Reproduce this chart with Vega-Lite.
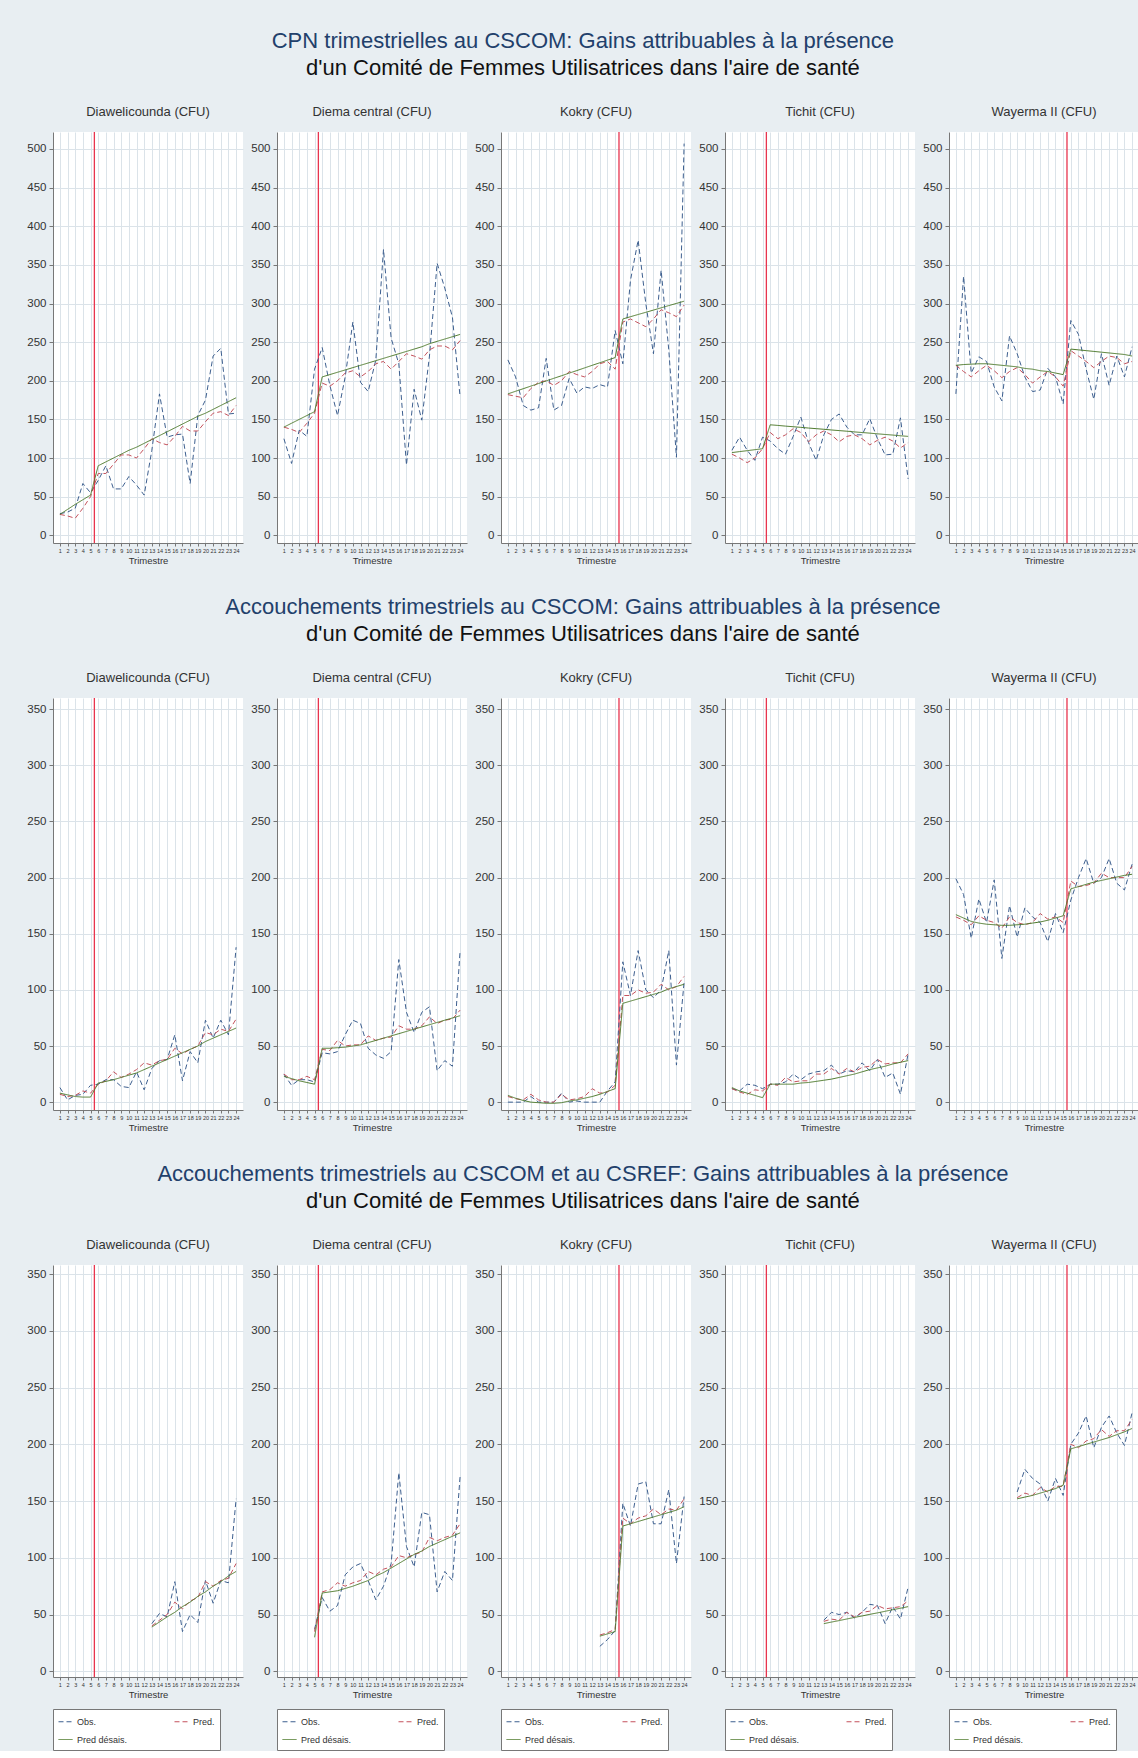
{
"$schema":"https://vega.github.io/schema/vega-lite/v6.json",
"background":"#e8eef2",
"padding":{"left":26,"top":30,"right":2,"bottom":0},
"spacing":31,
"data":{"values":[
{"r":1,"s":1,"q":1,"obs":28,"pred":27,"trend":27},{"r":1,"s":1,"q":2,"obs":30,"pred":25,"trend":33.5},{"r":1,"s":1,"q":3,"obs":35,"pred":22,"trend":40},{"r":1,"s":1,"q":4,"obs":67,"pred":35,"trend":46},{"r":1,"s":1,"q":5,"obs":55,"pred":50,"trend":52},{"r":1,"s":1,"q":6,"obs":71,"pred":80,"trend":90},{"r":1,"s":1,"q":7,"obs":90,"pred":80,"trend":95},{"r":1,"s":1,"q":8,"obs":60,"pred":92,"trend":100},{"r":1,"s":1,"q":9,"obs":60,"pred":104,"trend":105},{"r":1,"s":1,"q":10,"obs":76,"pred":104,"trend":110},{"r":1,"s":1,"q":11,"obs":65,"pred":100,"trend":114},{"r":1,"s":1,"q":12,"obs":52,"pred":112,"trend":119},{"r":1,"s":1,"q":13,"obs":110,"pred":125,"trend":124},{"r":1,"s":1,"q":14,"obs":183,"pred":120,"trend":129},{"r":1,"s":1,"q":15,"obs":127,"pred":117,"trend":134},{"r":1,"s":1,"q":16,"obs":130,"pred":128,"trend":139},{"r":1,"s":1,"q":17,"obs":131,"pred":141,"trend":144},{"r":1,"s":1,"q":18,"obs":67,"pred":135,"trend":149},{"r":1,"s":1,"q":19,"obs":155,"pred":135,"trend":154},{"r":1,"s":1,"q":20,"obs":175,"pred":147,"trend":158},{"r":1,"s":1,"q":21,"obs":232,"pred":158,"trend":163},{"r":1,"s":1,"q":22,"obs":242,"pred":160,"trend":168},{"r":1,"s":1,"q":23,"obs":157,"pred":155,"trend":173},{"r":1,"s":1,"q":24,"obs":158,"pred":168,"trend":178},
{"r":1,"s":2,"q":1,"obs":125,"pred":140,"trend":140},{"r":1,"s":2,"q":2,"obs":93,"pred":137,"trend":145},{"r":1,"s":2,"q":3,"obs":136,"pred":133,"trend":150},{"r":1,"s":2,"q":4,"obs":128,"pred":145,"trend":155},{"r":1,"s":2,"q":5,"obs":215,"pred":158,"trend":160},{"r":1,"s":2,"q":6,"obs":243,"pred":197,"trend":205},{"r":1,"s":2,"q":7,"obs":194,"pred":193,"trend":208},{"r":1,"s":2,"q":8,"obs":155,"pred":200,"trend":211},{"r":1,"s":2,"q":9,"obs":205,"pred":210,"trend":214},{"r":1,"s":2,"q":10,"obs":276,"pred":213,"trend":217},{"r":1,"s":2,"q":11,"obs":198,"pred":205,"trend":220},{"r":1,"s":2,"q":12,"obs":186,"pred":212,"trend":223},{"r":1,"s":2,"q":13,"obs":227,"pred":222,"trend":226},{"r":1,"s":2,"q":14,"obs":370,"pred":225,"trend":229},{"r":1,"s":2,"q":15,"obs":255,"pred":215,"trend":232},{"r":1,"s":2,"q":16,"obs":222,"pred":225,"trend":235},{"r":1,"s":2,"q":17,"obs":91,"pred":235,"trend":238},{"r":1,"s":2,"q":18,"obs":189,"pred":232,"trend":241},{"r":1,"s":2,"q":19,"obs":149,"pred":228,"trend":244},{"r":1,"s":2,"q":20,"obs":232,"pred":240,"trend":248},{"r":1,"s":2,"q":21,"obs":352,"pred":245,"trend":251},{"r":1,"s":2,"q":22,"obs":320,"pred":245,"trend":254},{"r":1,"s":2,"q":23,"obs":282,"pred":240,"trend":257},{"r":1,"s":2,"q":24,"obs":179,"pred":252,"trend":260},
{"r":1,"s":3,"q":1,"obs":227,"pred":182,"trend":183},{"r":1,"s":3,"q":2,"obs":205,"pred":180,"trend":186.4},{"r":1,"s":3,"q":3,"obs":168,"pred":178,"trend":189.7},{"r":1,"s":3,"q":4,"obs":162,"pred":190,"trend":193.1},{"r":1,"s":3,"q":5,"obs":165,"pred":198,"trend":196.4},{"r":1,"s":3,"q":6,"obs":229,"pred":200,"trend":199.8},{"r":1,"s":3,"q":7,"obs":162,"pred":194,"trend":203.2},{"r":1,"s":3,"q":8,"obs":168,"pred":200,"trend":206.5},{"r":1,"s":3,"q":9,"obs":203,"pred":212,"trend":209.9},{"r":1,"s":3,"q":10,"obs":184,"pred":208,"trend":213.2},{"r":1,"s":3,"q":11,"obs":192,"pred":205,"trend":216.6},{"r":1,"s":3,"q":12,"obs":190,"pred":212,"trend":220},{"r":1,"s":3,"q":13,"obs":195,"pred":222,"trend":223.3},{"r":1,"s":3,"q":14,"obs":192,"pred":225,"trend":226.7},{"r":1,"s":3,"q":15,"obs":265,"pred":215,"trend":230},{"r":1,"s":3,"q":16,"obs":222,"pred":276,"trend":280},{"r":1,"s":3,"q":17,"obs":330,"pred":280,"trend":282.9},{"r":1,"s":3,"q":18,"obs":382,"pred":275,"trend":285.8},{"r":1,"s":3,"q":19,"obs":300,"pred":270,"trend":288.6},{"r":1,"s":3,"q":20,"obs":235,"pred":280,"trend":291.5},{"r":1,"s":3,"q":21,"obs":343,"pred":292,"trend":294.4},{"r":1,"s":3,"q":22,"obs":240,"pred":288,"trend":297.3},{"r":1,"s":3,"q":23,"obs":101,"pred":283,"trend":300.1},{"r":1,"s":3,"q":24,"obs":507,"pred":298,"trend":303},
{"r":1,"s":4,"q":1,"obs":110,"pred":105,"trend":107},{"r":1,"s":4,"q":2,"obs":127,"pred":100,"trend":108.3},{"r":1,"s":4,"q":3,"obs":110,"pred":94,"trend":109.5},{"r":1,"s":4,"q":4,"obs":97,"pred":100,"trend":110.8},{"r":1,"s":4,"q":5,"obs":127,"pred":112,"trend":112},{"r":1,"s":4,"q":6,"obs":122,"pred":133,"trend":143},{"r":1,"s":4,"q":7,"obs":112,"pred":125,"trend":142.2},{"r":1,"s":4,"q":8,"obs":105,"pred":130,"trend":141.3},{"r":1,"s":4,"q":9,"obs":128,"pred":138,"trend":140.5},{"r":1,"s":4,"q":10,"obs":153,"pred":133,"trend":139.7},{"r":1,"s":4,"q":11,"obs":120,"pred":121,"trend":138.8},{"r":1,"s":4,"q":12,"obs":97,"pred":130,"trend":138},{"r":1,"s":4,"q":13,"obs":130,"pred":135,"trend":137.2},{"r":1,"s":4,"q":14,"obs":150,"pred":130,"trend":136.3},{"r":1,"s":4,"q":15,"obs":157,"pred":121,"trend":135.5},{"r":1,"s":4,"q":16,"obs":140,"pred":128,"trend":134.7},{"r":1,"s":4,"q":17,"obs":130,"pred":130,"trend":133.8},{"r":1,"s":4,"q":18,"obs":130,"pred":125,"trend":133},{"r":1,"s":4,"q":19,"obs":151,"pred":117,"trend":132.2},{"r":1,"s":4,"q":20,"obs":125,"pred":123,"trend":131.3},{"r":1,"s":4,"q":21,"obs":104,"pred":127,"trend":130.5},{"r":1,"s":4,"q":22,"obs":105,"pred":122,"trend":129.7},{"r":1,"s":4,"q":23,"obs":152,"pred":113,"trend":128.8},{"r":1,"s":4,"q":24,"obs":73,"pred":120,"trend":128},
{"r":1,"s":5,"q":1,"obs":183,"pred":220,"trend":220},{"r":1,"s":5,"q":2,"obs":335,"pred":212,"trend":221},{"r":1,"s":5,"q":3,"obs":210,"pred":205,"trend":221.5},{"r":1,"s":5,"q":4,"obs":231,"pred":213,"trend":222},{"r":1,"s":5,"q":5,"obs":225,"pred":220,"trend":222},{"r":1,"s":5,"q":6,"obs":192,"pred":213,"trend":221},{"r":1,"s":5,"q":7,"obs":174,"pred":204,"trend":220},{"r":1,"s":5,"q":8,"obs":258,"pred":212,"trend":219},{"r":1,"s":5,"q":9,"obs":235,"pred":217,"trend":218},{"r":1,"s":5,"q":10,"obs":205,"pred":208,"trend":216},{"r":1,"s":5,"q":11,"obs":186,"pred":197,"trend":215},{"r":1,"s":5,"q":12,"obs":188,"pred":205,"trend":213},{"r":1,"s":5,"q":13,"obs":216,"pred":212,"trend":212},{"r":1,"s":5,"q":14,"obs":205,"pred":205,"trend":210},{"r":1,"s":5,"q":15,"obs":170,"pred":193,"trend":208},{"r":1,"s":5,"q":16,"obs":278,"pred":239,"trend":241},{"r":1,"s":5,"q":17,"obs":260,"pred":232,"trend":240},{"r":1,"s":5,"q":18,"obs":215,"pred":225,"trend":239},{"r":1,"s":5,"q":19,"obs":176,"pred":217,"trend":238},{"r":1,"s":5,"q":20,"obs":235,"pred":225,"trend":237},{"r":1,"s":5,"q":21,"obs":194,"pred":232,"trend":236},{"r":1,"s":5,"q":22,"obs":232,"pred":230,"trend":235},{"r":1,"s":5,"q":23,"obs":205,"pred":222,"trend":234},{"r":1,"s":5,"q":24,"obs":244,"pred":225,"trend":232},
{"r":2,"s":1,"q":1,"obs":13,"pred":7,"trend":8},{"r":2,"s":1,"q":2,"obs":2,"pred":5,"trend":6.5},{"r":2,"s":1,"q":3,"obs":6,"pred":6,"trend":5},{"r":2,"s":1,"q":4,"obs":7,"pred":10,"trend":4.5},{"r":2,"s":1,"q":5,"obs":15,"pred":8,"trend":4.5},{"r":2,"s":1,"q":6,"obs":16,"pred":16,"trend":17},{"r":2,"s":1,"q":7,"obs":20,"pred":19,"trend":18.5},{"r":2,"s":1,"q":8,"obs":20,"pred":27,"trend":20},{"r":2,"s":1,"q":9,"obs":14,"pred":22,"trend":22},{"r":2,"s":1,"q":10,"obs":13,"pred":25,"trend":24},{"r":2,"s":1,"q":11,"obs":27,"pred":29,"trend":26},{"r":2,"s":1,"q":12,"obs":11,"pred":35,"trend":29},{"r":2,"s":1,"q":13,"obs":30,"pred":33,"trend":32},{"r":2,"s":1,"q":14,"obs":37,"pred":37,"trend":35},{"r":2,"s":1,"q":15,"obs":38,"pred":38,"trend":38},{"r":2,"s":1,"q":16,"obs":60,"pred":48,"trend":41},{"r":2,"s":1,"q":17,"obs":19,"pred":43,"trend":44},{"r":2,"s":1,"q":18,"obs":45,"pred":47,"trend":47},{"r":2,"s":1,"q":19,"obs":35,"pred":50,"trend":50},{"r":2,"s":1,"q":20,"obs":73,"pred":62,"trend":54},{"r":2,"s":1,"q":21,"obs":57,"pred":60,"trend":57},{"r":2,"s":1,"q":22,"obs":73,"pred":65,"trend":60},{"r":2,"s":1,"q":23,"obs":60,"pred":63,"trend":63},{"r":2,"s":1,"q":24,"obs":138,"pred":74,"trend":66},
{"r":2,"s":2,"q":1,"obs":25,"pred":25,"trend":23},{"r":2,"s":2,"q":2,"obs":15,"pred":20,"trend":21},{"r":2,"s":2,"q":3,"obs":20,"pred":20,"trend":19},{"r":2,"s":2,"q":4,"obs":20,"pred":23,"trend":17.5},{"r":2,"s":2,"q":5,"obs":18,"pred":20,"trend":16},{"r":2,"s":2,"q":6,"obs":44,"pred":47,"trend":48},{"r":2,"s":2,"q":7,"obs":43,"pred":46,"trend":48},{"r":2,"s":2,"q":8,"obs":45,"pred":55,"trend":48.5},{"r":2,"s":2,"q":9,"obs":60,"pred":50,"trend":49},{"r":2,"s":2,"q":10,"obs":73,"pred":51,"trend":50},{"r":2,"s":2,"q":11,"obs":70,"pred":51,"trend":51},{"r":2,"s":2,"q":12,"obs":48,"pred":59,"trend":53},{"r":2,"s":2,"q":13,"obs":42,"pred":55,"trend":55},{"r":2,"s":2,"q":14,"obs":39,"pred":57,"trend":57},{"r":2,"s":2,"q":15,"obs":45,"pred":58,"trend":59},{"r":2,"s":2,"q":16,"obs":127,"pred":68,"trend":61},{"r":2,"s":2,"q":17,"obs":80,"pred":65,"trend":63},{"r":2,"s":2,"q":18,"obs":62,"pred":65,"trend":65},{"r":2,"s":2,"q":19,"obs":80,"pred":68,"trend":67},{"r":2,"s":2,"q":20,"obs":85,"pred":76,"trend":69},{"r":2,"s":2,"q":21,"obs":28,"pred":70,"trend":71},{"r":2,"s":2,"q":22,"obs":37,"pred":73,"trend":73},{"r":2,"s":2,"q":23,"obs":32,"pred":74,"trend":75},{"r":2,"s":2,"q":24,"obs":135,"pred":82,"trend":77},
{"r":2,"s":3,"q":1,"obs":0,"pred":5,"trend":6},{"r":2,"s":3,"q":2,"obs":0,"pred":3,"trend":3.5},{"r":2,"s":3,"q":3,"obs":0,"pred":2,"trend":1.5},{"r":2,"s":3,"q":4,"obs":5,"pred":7,"trend":0},{"r":2,"s":3,"q":5,"obs":0,"pred":2,"trend":-0.5},{"r":2,"s":3,"q":6,"obs":0,"pred":0,"trend":-1},{"r":2,"s":3,"q":7,"obs":0,"pred":0,"trend":-1},{"r":2,"s":3,"q":8,"obs":8,"pred":7,"trend":-0.5},{"r":2,"s":3,"q":9,"obs":0,"pred":2,"trend":1},{"r":2,"s":3,"q":10,"obs":1,"pred":3,"trend":2},{"r":2,"s":3,"q":11,"obs":0,"pred":5,"trend":3.5},{"r":2,"s":3,"q":12,"obs":0,"pred":12,"trend":5},{"r":2,"s":3,"q":13,"obs":0,"pred":8,"trend":7},{"r":2,"s":3,"q":14,"obs":10,"pred":9,"trend":9.5},{"r":2,"s":3,"q":15,"obs":18,"pred":15,"trend":12},{"r":2,"s":3,"q":16,"obs":125,"pred":95,"trend":88},{"r":2,"s":3,"q":17,"obs":95,"pred":95,"trend":90},{"r":2,"s":3,"q":18,"obs":135,"pred":100,"trend":92},{"r":2,"s":3,"q":19,"obs":100,"pred":97,"trend":94},{"r":2,"s":3,"q":20,"obs":93,"pred":98,"trend":96},{"r":2,"s":3,"q":21,"obs":100,"pred":105,"trend":98},{"r":2,"s":3,"q":22,"obs":135,"pred":100,"trend":101},{"r":2,"s":3,"q":23,"obs":33,"pred":103,"trend":103},{"r":2,"s":3,"q":24,"obs":107,"pred":112,"trend":105},
{"r":2,"s":4,"q":1,"obs":12,"pred":12,"trend":13},{"r":2,"s":4,"q":2,"obs":10,"pred":9,"trend":10},{"r":2,"s":4,"q":3,"obs":16,"pred":7,"trend":8},{"r":2,"s":4,"q":4,"obs":15,"pred":11,"trend":6},{"r":2,"s":4,"q":5,"obs":12,"pred":10,"trend":4},{"r":2,"s":4,"q":6,"obs":16,"pred":16,"trend":16},{"r":2,"s":4,"q":7,"obs":16,"pred":15,"trend":16},{"r":2,"s":4,"q":8,"obs":18,"pred":22,"trend":16},{"r":2,"s":4,"q":9,"obs":25,"pred":18,"trend":16},{"r":2,"s":4,"q":10,"obs":20,"pred":19,"trend":17},{"r":2,"s":4,"q":11,"obs":25,"pred":19,"trend":17.5},{"r":2,"s":4,"q":12,"obs":27,"pred":25,"trend":18.5},{"r":2,"s":4,"q":13,"obs":28,"pred":25,"trend":19.5},{"r":2,"s":4,"q":14,"obs":33,"pred":30,"trend":20.5},{"r":2,"s":4,"q":15,"obs":25,"pred":25,"trend":22},{"r":2,"s":4,"q":16,"obs":28,"pred":30,"trend":23.5},{"r":2,"s":4,"q":17,"obs":27,"pred":27,"trend":25},{"r":2,"s":4,"q":18,"obs":35,"pred":31,"trend":27},{"r":2,"s":4,"q":19,"obs":28,"pred":32,"trend":29},{"r":2,"s":4,"q":20,"obs":38,"pred":38,"trend":30.5},{"r":2,"s":4,"q":21,"obs":22,"pred":34,"trend":32},{"r":2,"s":4,"q":22,"obs":26,"pred":35,"trend":34},{"r":2,"s":4,"q":23,"obs":7,"pred":35,"trend":35.5},{"r":2,"s":4,"q":24,"obs":43,"pred":43,"trend":37},
{"r":2,"s":5,"q":1,"obs":199,"pred":165,"trend":167},{"r":2,"s":5,"q":2,"obs":185,"pred":162,"trend":164},{"r":2,"s":5,"q":3,"obs":146,"pred":158,"trend":161},{"r":2,"s":5,"q":4,"obs":181,"pred":166,"trend":159.5},{"r":2,"s":5,"q":5,"obs":160,"pred":162,"trend":158.5},{"r":2,"s":5,"q":6,"obs":198,"pred":160,"trend":158},{"r":2,"s":5,"q":7,"obs":128,"pred":155,"trend":157.5},{"r":2,"s":5,"q":8,"obs":175,"pred":165,"trend":157.5},{"r":2,"s":5,"q":9,"obs":147,"pred":160,"trend":158},{"r":2,"s":5,"q":10,"obs":173,"pred":158,"trend":158.5},{"r":2,"s":5,"q":11,"obs":165,"pred":160,"trend":159.5},{"r":2,"s":5,"q":12,"obs":160,"pred":168,"trend":160.5},{"r":2,"s":5,"q":13,"obs":143,"pred":163,"trend":162},{"r":2,"s":5,"q":14,"obs":168,"pred":165,"trend":164},{"r":2,"s":5,"q":15,"obs":151,"pred":160,"trend":166},{"r":2,"s":5,"q":16,"obs":180,"pred":197,"trend":190},{"r":2,"s":5,"q":17,"obs":200,"pred":192,"trend":192},{"r":2,"s":5,"q":18,"obs":217,"pred":193,"trend":194},{"r":2,"s":5,"q":19,"obs":195,"pred":195,"trend":196},{"r":2,"s":5,"q":20,"obs":200,"pred":204,"trend":197.5},{"r":2,"s":5,"q":21,"obs":217,"pred":200,"trend":199},{"r":2,"s":5,"q":22,"obs":195,"pred":200,"trend":200.5},{"r":2,"s":5,"q":23,"obs":189,"pred":200,"trend":202},{"r":2,"s":5,"q":24,"obs":212,"pred":210,"trend":203},
{"r":3,"s":1,"q":13,"obs":42,"pred":40,"trend":39},{"r":3,"s":1,"q":14,"obs":51,"pred":45,"trend":43.5},{"r":3,"s":1,"q":15,"obs":48,"pred":50,"trend":48},{"r":3,"s":1,"q":16,"obs":79,"pred":61,"trend":52},{"r":3,"s":1,"q":17,"obs":35,"pred":55,"trend":57},{"r":3,"s":1,"q":18,"obs":50,"pred":62,"trend":61},{"r":3,"s":1,"q":19,"obs":43,"pred":65,"trend":66},{"r":3,"s":1,"q":20,"obs":80,"pred":79,"trend":70},{"r":3,"s":1,"q":21,"obs":60,"pred":75,"trend":75},{"r":3,"s":1,"q":22,"obs":80,"pred":80,"trend":79},{"r":3,"s":1,"q":23,"obs":78,"pred":82,"trend":84},{"r":3,"s":1,"q":24,"obs":152,"pred":95,"trend":88},
{"r":3,"s":2,"q":5,"obs":37,"pred":35,"trend":30},{"r":3,"s":2,"q":6,"obs":65,"pred":70,"trend":69},{"r":3,"s":2,"q":7,"obs":53,"pred":72,"trend":70},{"r":3,"s":2,"q":8,"obs":58,"pred":78,"trend":71},{"r":3,"s":2,"q":9,"obs":85,"pred":75,"trend":73},{"r":3,"s":2,"q":10,"obs":92,"pred":78,"trend":75},{"r":3,"s":2,"q":11,"obs":95,"pred":80,"trend":77.5},{"r":3,"s":2,"q":12,"obs":80,"pred":88,"trend":80},{"r":3,"s":2,"q":13,"obs":63,"pred":85,"trend":84},{"r":3,"s":2,"q":14,"obs":75,"pred":90,"trend":87},{"r":3,"s":2,"q":15,"obs":95,"pred":92,"trend":91},{"r":3,"s":2,"q":16,"obs":175,"pred":102,"trend":95},{"r":3,"s":2,"q":17,"obs":110,"pred":100,"trend":99},{"r":3,"s":2,"q":18,"obs":92,"pred":103,"trend":103},{"r":3,"s":2,"q":19,"obs":140,"pred":105,"trend":106},{"r":3,"s":2,"q":20,"obs":138,"pred":118,"trend":110},{"r":3,"s":2,"q":21,"obs":70,"pred":115,"trend":113},{"r":3,"s":2,"q":22,"obs":88,"pred":118,"trend":116},{"r":3,"s":2,"q":23,"obs":80,"pred":120,"trend":119},{"r":3,"s":2,"q":24,"obs":172,"pred":130,"trend":122},
{"r":3,"s":3,"q":13,"obs":22,"pred":32,"trend":31},{"r":3,"s":3,"q":14,"obs":28,"pred":34,"trend":33},{"r":3,"s":3,"q":15,"obs":36,"pred":37,"trend":35},{"r":3,"s":3,"q":16,"obs":148,"pred":135,"trend":128},{"r":3,"s":3,"q":17,"obs":128,"pred":130,"trend":130},{"r":3,"s":3,"q":18,"obs":165,"pred":135,"trend":132},{"r":3,"s":3,"q":19,"obs":167,"pred":137,"trend":134},{"r":3,"s":3,"q":20,"obs":130,"pred":143,"trend":136},{"r":3,"s":3,"q":21,"obs":130,"pred":138,"trend":138},{"r":3,"s":3,"q":22,"obs":160,"pred":143,"trend":140},{"r":3,"s":3,"q":23,"obs":95,"pred":142,"trend":142},{"r":3,"s":3,"q":24,"obs":154,"pred":152,"trend":145},
{"r":3,"s":4,"q":13,"obs":45,"pred":44,"trend":42},{"r":3,"s":4,"q":14,"obs":52,"pred":46,"trend":43.4},{"r":3,"s":4,"q":15,"obs":50,"pred":45,"trend":44.7},{"r":3,"s":4,"q":16,"obs":52,"pred":52,"trend":46.1},{"r":3,"s":4,"q":17,"obs":47,"pred":48,"trend":47.5},{"r":3,"s":4,"q":18,"obs":52,"pred":52,"trend":48.8},{"r":3,"s":4,"q":19,"obs":59,"pred":53,"trend":50.2},{"r":3,"s":4,"q":20,"obs":58,"pred":58,"trend":51.5},{"r":3,"s":4,"q":21,"obs":42,"pred":55,"trend":52.9},{"r":3,"s":4,"q":22,"obs":57,"pred":56,"trend":54.3},{"r":3,"s":4,"q":23,"obs":46,"pred":57,"trend":55.6},{"r":3,"s":4,"q":24,"obs":74,"pred":62,"trend":57},
{"r":3,"s":5,"q":9,"obs":158,"pred":153,"trend":152},{"r":3,"s":5,"q":10,"obs":178,"pred":157,"trend":153.5},{"r":3,"s":5,"q":11,"obs":170,"pred":155,"trend":155},{"r":3,"s":5,"q":12,"obs":165,"pred":162,"trend":157},{"r":3,"s":5,"q":13,"obs":150,"pred":158,"trend":159},{"r":3,"s":5,"q":14,"obs":170,"pred":163,"trend":161},{"r":3,"s":5,"q":15,"obs":155,"pred":163,"trend":164},{"r":3,"s":5,"q":16,"obs":200,"pred":200,"trend":196},{"r":3,"s":5,"q":17,"obs":210,"pred":197,"trend":198},{"r":3,"s":5,"q":18,"obs":225,"pred":203,"trend":200},{"r":3,"s":5,"q":19,"obs":197,"pred":205,"trend":202},{"r":3,"s":5,"q":20,"obs":215,"pred":213,"trend":204},{"r":3,"s":5,"q":21,"obs":225,"pred":207,"trend":206},{"r":3,"s":5,"q":22,"obs":210,"pred":212,"trend":208.5},{"r":3,"s":5,"q":23,"obs":199,"pred":212,"trend":211},{"r":3,"s":5,"q":24,"obs":228,"pred":222,"trend":214}
]},
"resolve":{"scale":{"color":"independent","strokeDash":"independent","strokeWidth":"independent"},"legend":{"color":"independent","strokeDash":"independent","strokeWidth":"independent"}},
"vconcat":[
{"title":{"text":"CPN trimestrielles au CSCOM: Gains attribuables à la présence","subtitle":"d'un Comité de Femmes Utilisatrices dans l'aire de santé","fontSize":22,"subtitleFontSize":22,"color":"#22406b","subtitleColor":"#111111","subtitlePadding":5,"anchor":"middle","offset":26,"font":"Liberation Sans","subtitleFont":"Liberation Sans","fontWeight":"normal"},
"spacing":7,
"resolve":{"scale":{"color":"independent","strokeDash":"independent","strokeWidth":"independent"},"legend":{"color":"independent","strokeDash":"independent","strokeWidth":"independent"}},
"hconcat":[
{"width":190,"height":411,"title":{"text":"Diawelicounda (CFU)","fontSize":13,"color":"#333","offset":12,"fontWeight":"normal"},"layer":[
{"data":{"values":[{}]},"mark":{"type":"rule","color":"#e8344e","strokeWidth":1.3},"encoding":{"x":{"datum":5.5,"type":"quantitative"}}},
{"transform":[{"filter":"datum.r==1&&datum.s==1"},{"fold":["obs","pred","trend"],"as":["k","v"]}],"mark":{"type":"line"},"encoding":{
"x":{"field":"q","type":"quantitative","scale":{"domain":[0.1,24.9],"nice":false,"zero":false},"axis":{"values":[1,2,3,4,5,6,7,8,9,10,11,12,13,14,15,16,17,18,19,20,21,22,23,24],"tickCount":40,"format":"d","grid":true,"labelOverlap":false,"title":"Trimestre"}},
"y":{"field":"v","type":"quantitative","scale":{"domain":[-10,522],"nice":false,"zero":false},"axis":{"values":[0,50,100,150,200,250,300,350,400,450,500],"tickCount":40,"format":"d","labelOverlap":false}},
"color":{"field":"k","type":"nominal","scale":{"domain":["obs","pred","trend"],"range":["#3d5f8f","#c4525c","#4e7a2c"]},"legend":null},
"strokeDash":{"field":"k","type":"nominal","scale":{"domain":["obs","pred","trend"],"range":[[5,3],[5,3],[1,0]]},"legend":null},
"strokeWidth":{"field":"k","type":"nominal","scale":{"domain":["obs","pred","trend"],"range":[1,1,2.5]},"legend":null}}}]},
{"width":190,"height":411,"title":{"text":"Diema central (CFU)","fontSize":13,"color":"#333","offset":12,"fontWeight":"normal"},"layer":[
{"data":{"values":[{}]},"mark":{"type":"rule","color":"#e8344e","strokeWidth":1.3},"encoding":{"x":{"datum":5.5,"type":"quantitative"}}},
{"transform":[{"filter":"datum.r==1&&datum.s==2"},{"fold":["obs","pred","trend"],"as":["k","v"]}],"mark":{"type":"line"},"encoding":{
"x":{"field":"q","type":"quantitative","scale":{"domain":[0.1,24.9],"nice":false,"zero":false},"axis":{"values":[1,2,3,4,5,6,7,8,9,10,11,12,13,14,15,16,17,18,19,20,21,22,23,24],"tickCount":40,"format":"d","grid":true,"labelOverlap":false,"title":"Trimestre"}},
"y":{"field":"v","type":"quantitative","scale":{"domain":[-10,522],"nice":false,"zero":false},"axis":{"values":[0,50,100,150,200,250,300,350,400,450,500],"tickCount":40,"format":"d","labelOverlap":false}},
"color":{"field":"k","type":"nominal","scale":{"domain":["obs","pred","trend"],"range":["#3d5f8f","#c4525c","#4e7a2c"]},"legend":null},
"strokeDash":{"field":"k","type":"nominal","scale":{"domain":["obs","pred","trend"],"range":[[5,3],[5,3],[1,0]]},"legend":null},
"strokeWidth":{"field":"k","type":"nominal","scale":{"domain":["obs","pred","trend"],"range":[1,1,2.5]},"legend":null}}}]},
{"width":190,"height":411,"title":{"text":"Kokry (CFU)","fontSize":13,"color":"#333","offset":12,"fontWeight":"normal"},"layer":[
{"data":{"values":[{}]},"mark":{"type":"rule","color":"#e8344e","strokeWidth":1.3},"encoding":{"x":{"datum":15.5,"type":"quantitative"}}},
{"transform":[{"filter":"datum.r==1&&datum.s==3"},{"fold":["obs","pred","trend"],"as":["k","v"]}],"mark":{"type":"line"},"encoding":{
"x":{"field":"q","type":"quantitative","scale":{"domain":[0.1,24.9],"nice":false,"zero":false},"axis":{"values":[1,2,3,4,5,6,7,8,9,10,11,12,13,14,15,16,17,18,19,20,21,22,23,24],"tickCount":40,"format":"d","grid":true,"labelOverlap":false,"title":"Trimestre"}},
"y":{"field":"v","type":"quantitative","scale":{"domain":[-10,522],"nice":false,"zero":false},"axis":{"values":[0,50,100,150,200,250,300,350,400,450,500],"tickCount":40,"format":"d","labelOverlap":false}},
"color":{"field":"k","type":"nominal","scale":{"domain":["obs","pred","trend"],"range":["#3d5f8f","#c4525c","#4e7a2c"]},"legend":null},
"strokeDash":{"field":"k","type":"nominal","scale":{"domain":["obs","pred","trend"],"range":[[5,3],[5,3],[1,0]]},"legend":null},
"strokeWidth":{"field":"k","type":"nominal","scale":{"domain":["obs","pred","trend"],"range":[1,1,2.5]},"legend":null}}}]},
{"width":190,"height":411,"title":{"text":"Tichit (CFU)","fontSize":13,"color":"#333","offset":12,"fontWeight":"normal"},"layer":[
{"data":{"values":[{}]},"mark":{"type":"rule","color":"#e8344e","strokeWidth":1.3},"encoding":{"x":{"datum":5.5,"type":"quantitative"}}},
{"transform":[{"filter":"datum.r==1&&datum.s==4"},{"fold":["obs","pred","trend"],"as":["k","v"]}],"mark":{"type":"line"},"encoding":{
"x":{"field":"q","type":"quantitative","scale":{"domain":[0.1,24.9],"nice":false,"zero":false},"axis":{"values":[1,2,3,4,5,6,7,8,9,10,11,12,13,14,15,16,17,18,19,20,21,22,23,24],"tickCount":40,"format":"d","grid":true,"labelOverlap":false,"title":"Trimestre"}},
"y":{"field":"v","type":"quantitative","scale":{"domain":[-10,522],"nice":false,"zero":false},"axis":{"values":[0,50,100,150,200,250,300,350,400,450,500],"tickCount":40,"format":"d","labelOverlap":false}},
"color":{"field":"k","type":"nominal","scale":{"domain":["obs","pred","trend"],"range":["#3d5f8f","#c4525c","#4e7a2c"]},"legend":null},
"strokeDash":{"field":"k","type":"nominal","scale":{"domain":["obs","pred","trend"],"range":[[5,3],[5,3],[1,0]]},"legend":null},
"strokeWidth":{"field":"k","type":"nominal","scale":{"domain":["obs","pred","trend"],"range":[1,1,2.5]},"legend":null}}}]},
{"width":190,"height":411,"title":{"text":"Wayerma II (CFU)","fontSize":13,"color":"#333","offset":12,"fontWeight":"normal"},"layer":[
{"data":{"values":[{}]},"mark":{"type":"rule","color":"#e8344e","strokeWidth":1.3},"encoding":{"x":{"datum":15.5,"type":"quantitative"}}},
{"transform":[{"filter":"datum.r==1&&datum.s==5"},{"fold":["obs","pred","trend"],"as":["k","v"]}],"mark":{"type":"line"},"encoding":{
"x":{"field":"q","type":"quantitative","scale":{"domain":[0.1,24.9],"nice":false,"zero":false},"axis":{"values":[1,2,3,4,5,6,7,8,9,10,11,12,13,14,15,16,17,18,19,20,21,22,23,24],"tickCount":40,"format":"d","grid":true,"labelOverlap":false,"title":"Trimestre"}},
"y":{"field":"v","type":"quantitative","scale":{"domain":[-10,522],"nice":false,"zero":false},"axis":{"values":[0,50,100,150,200,250,300,350,400,450,500],"tickCount":40,"format":"d","labelOverlap":false}},
"color":{"field":"k","type":"nominal","scale":{"domain":["obs","pred","trend"],"range":["#3d5f8f","#c4525c","#4e7a2c"]},"legend":null},
"strokeDash":{"field":"k","type":"nominal","scale":{"domain":["obs","pred","trend"],"range":[[5,3],[5,3],[1,0]]},"legend":null},
"strokeWidth":{"field":"k","type":"nominal","scale":{"domain":["obs","pred","trend"],"range":[1,1,2.5]},"legend":null}}}]}
]},
{"title":{"text":"Accouchements trimestriels au CSCOM: Gains attribuables à la présence","subtitle":"d'un Comité de Femmes Utilisatrices dans l'aire de santé","fontSize":22,"subtitleFontSize":22,"color":"#22406b","subtitleColor":"#111111","subtitlePadding":5,"anchor":"middle","offset":26,"font":"Liberation Sans","subtitleFont":"Liberation Sans","fontWeight":"normal"},
"spacing":7,
"resolve":{"scale":{"color":"independent","strokeDash":"independent","strokeWidth":"independent"},"legend":{"color":"independent","strokeDash":"independent","strokeWidth":"independent"}},
"hconcat":[
{"width":190,"height":412,"title":{"text":"Diawelicounda (CFU)","fontSize":13,"color":"#333","offset":12,"fontWeight":"normal"},"layer":[
{"data":{"values":[{}]},"mark":{"type":"rule","color":"#e8344e","strokeWidth":1.3},"encoding":{"x":{"datum":5.5,"type":"quantitative"}}},
{"transform":[{"filter":"datum.r==2&&datum.s==1"},{"fold":["obs","pred","trend"],"as":["k","v"]}],"mark":{"type":"line"},"encoding":{
"x":{"field":"q","type":"quantitative","scale":{"domain":[0.1,24.9],"nice":false,"zero":false},"axis":{"values":[1,2,3,4,5,6,7,8,9,10,11,12,13,14,15,16,17,18,19,20,21,22,23,24],"tickCount":40,"format":"d","grid":true,"labelOverlap":false,"title":"Trimestre"}},
"y":{"field":"v","type":"quantitative","scale":{"domain":[-7,360],"nice":false,"zero":false},"axis":{"values":[0,50,100,150,200,250,300,350],"tickCount":40,"format":"d","labelOverlap":false}},
"color":{"field":"k","type":"nominal","scale":{"domain":["obs","pred","trend"],"range":["#3d5f8f","#c4525c","#4e7a2c"]},"legend":null},
"strokeDash":{"field":"k","type":"nominal","scale":{"domain":["obs","pred","trend"],"range":[[5,3],[5,3],[1,0]]},"legend":null},
"strokeWidth":{"field":"k","type":"nominal","scale":{"domain":["obs","pred","trend"],"range":[1,1,2.5]},"legend":null}}}]},
{"width":190,"height":412,"title":{"text":"Diema central (CFU)","fontSize":13,"color":"#333","offset":12,"fontWeight":"normal"},"layer":[
{"data":{"values":[{}]},"mark":{"type":"rule","color":"#e8344e","strokeWidth":1.3},"encoding":{"x":{"datum":5.5,"type":"quantitative"}}},
{"transform":[{"filter":"datum.r==2&&datum.s==2"},{"fold":["obs","pred","trend"],"as":["k","v"]}],"mark":{"type":"line"},"encoding":{
"x":{"field":"q","type":"quantitative","scale":{"domain":[0.1,24.9],"nice":false,"zero":false},"axis":{"values":[1,2,3,4,5,6,7,8,9,10,11,12,13,14,15,16,17,18,19,20,21,22,23,24],"tickCount":40,"format":"d","grid":true,"labelOverlap":false,"title":"Trimestre"}},
"y":{"field":"v","type":"quantitative","scale":{"domain":[-7,360],"nice":false,"zero":false},"axis":{"values":[0,50,100,150,200,250,300,350],"tickCount":40,"format":"d","labelOverlap":false}},
"color":{"field":"k","type":"nominal","scale":{"domain":["obs","pred","trend"],"range":["#3d5f8f","#c4525c","#4e7a2c"]},"legend":null},
"strokeDash":{"field":"k","type":"nominal","scale":{"domain":["obs","pred","trend"],"range":[[5,3],[5,3],[1,0]]},"legend":null},
"strokeWidth":{"field":"k","type":"nominal","scale":{"domain":["obs","pred","trend"],"range":[1,1,2.5]},"legend":null}}}]},
{"width":190,"height":412,"title":{"text":"Kokry (CFU)","fontSize":13,"color":"#333","offset":12,"fontWeight":"normal"},"layer":[
{"data":{"values":[{}]},"mark":{"type":"rule","color":"#e8344e","strokeWidth":1.3},"encoding":{"x":{"datum":15.5,"type":"quantitative"}}},
{"transform":[{"filter":"datum.r==2&&datum.s==3"},{"fold":["obs","pred","trend"],"as":["k","v"]}],"mark":{"type":"line"},"encoding":{
"x":{"field":"q","type":"quantitative","scale":{"domain":[0.1,24.9],"nice":false,"zero":false},"axis":{"values":[1,2,3,4,5,6,7,8,9,10,11,12,13,14,15,16,17,18,19,20,21,22,23,24],"tickCount":40,"format":"d","grid":true,"labelOverlap":false,"title":"Trimestre"}},
"y":{"field":"v","type":"quantitative","scale":{"domain":[-7,360],"nice":false,"zero":false},"axis":{"values":[0,50,100,150,200,250,300,350],"tickCount":40,"format":"d","labelOverlap":false}},
"color":{"field":"k","type":"nominal","scale":{"domain":["obs","pred","trend"],"range":["#3d5f8f","#c4525c","#4e7a2c"]},"legend":null},
"strokeDash":{"field":"k","type":"nominal","scale":{"domain":["obs","pred","trend"],"range":[[5,3],[5,3],[1,0]]},"legend":null},
"strokeWidth":{"field":"k","type":"nominal","scale":{"domain":["obs","pred","trend"],"range":[1,1,2.5]},"legend":null}}}]},
{"width":190,"height":412,"title":{"text":"Tichit (CFU)","fontSize":13,"color":"#333","offset":12,"fontWeight":"normal"},"layer":[
{"data":{"values":[{}]},"mark":{"type":"rule","color":"#e8344e","strokeWidth":1.3},"encoding":{"x":{"datum":5.5,"type":"quantitative"}}},
{"transform":[{"filter":"datum.r==2&&datum.s==4"},{"fold":["obs","pred","trend"],"as":["k","v"]}],"mark":{"type":"line"},"encoding":{
"x":{"field":"q","type":"quantitative","scale":{"domain":[0.1,24.9],"nice":false,"zero":false},"axis":{"values":[1,2,3,4,5,6,7,8,9,10,11,12,13,14,15,16,17,18,19,20,21,22,23,24],"tickCount":40,"format":"d","grid":true,"labelOverlap":false,"title":"Trimestre"}},
"y":{"field":"v","type":"quantitative","scale":{"domain":[-7,360],"nice":false,"zero":false},"axis":{"values":[0,50,100,150,200,250,300,350],"tickCount":40,"format":"d","labelOverlap":false}},
"color":{"field":"k","type":"nominal","scale":{"domain":["obs","pred","trend"],"range":["#3d5f8f","#c4525c","#4e7a2c"]},"legend":null},
"strokeDash":{"field":"k","type":"nominal","scale":{"domain":["obs","pred","trend"],"range":[[5,3],[5,3],[1,0]]},"legend":null},
"strokeWidth":{"field":"k","type":"nominal","scale":{"domain":["obs","pred","trend"],"range":[1,1,2.5]},"legend":null}}}]},
{"width":190,"height":412,"title":{"text":"Wayerma II (CFU)","fontSize":13,"color":"#333","offset":12,"fontWeight":"normal"},"layer":[
{"data":{"values":[{}]},"mark":{"type":"rule","color":"#e8344e","strokeWidth":1.3},"encoding":{"x":{"datum":15.5,"type":"quantitative"}}},
{"transform":[{"filter":"datum.r==2&&datum.s==5"},{"fold":["obs","pred","trend"],"as":["k","v"]}],"mark":{"type":"line"},"encoding":{
"x":{"field":"q","type":"quantitative","scale":{"domain":[0.1,24.9],"nice":false,"zero":false},"axis":{"values":[1,2,3,4,5,6,7,8,9,10,11,12,13,14,15,16,17,18,19,20,21,22,23,24],"tickCount":40,"format":"d","grid":true,"labelOverlap":false,"title":"Trimestre"}},
"y":{"field":"v","type":"quantitative","scale":{"domain":[-7,360],"nice":false,"zero":false},"axis":{"values":[0,50,100,150,200,250,300,350],"tickCount":40,"format":"d","labelOverlap":false}},
"color":{"field":"k","type":"nominal","scale":{"domain":["obs","pred","trend"],"range":["#3d5f8f","#c4525c","#4e7a2c"]},"legend":null},
"strokeDash":{"field":"k","type":"nominal","scale":{"domain":["obs","pred","trend"],"range":[[5,3],[5,3],[1,0]]},"legend":null},
"strokeWidth":{"field":"k","type":"nominal","scale":{"domain":["obs","pred","trend"],"range":[1,1,2.5]},"legend":null}}}]}
]},
{"title":{"text":"Accouchements trimestriels au CSCOM et au CSREF: Gains attribuables à la présence","subtitle":"d'un Comité de Femmes Utilisatrices dans l'aire de santé","fontSize":22,"subtitleFontSize":22,"color":"#22406b","subtitleColor":"#111111","subtitlePadding":5,"anchor":"middle","offset":26,"font":"Liberation Sans","subtitleFont":"Liberation Sans","fontWeight":"normal"},
"spacing":7,
"resolve":{"scale":{"color":"independent","strokeDash":"independent","strokeWidth":"independent"},"legend":{"color":"independent","strokeDash":"independent","strokeWidth":"independent"}},
"hconcat":[
{"width":190,"height":412,"title":{"text":"Diawelicounda (CFU)","fontSize":13,"color":"#333","offset":12,"fontWeight":"normal"},"layer":[
{"data":{"values":[{}]},"mark":{"type":"rule","color":"#e8344e","strokeWidth":1.3},"encoding":{"x":{"datum":5.5,"type":"quantitative"}}},
{"transform":[{"filter":"datum.r==3&&datum.s==1"},{"fold":["obs","pred","trend"],"as":["k","v"]}],"mark":{"type":"line"},"encoding":{
"x":{"field":"q","type":"quantitative","scale":{"domain":[0.1,24.9],"nice":false,"zero":false},"axis":{"values":[1,2,3,4,5,6,7,8,9,10,11,12,13,14,15,16,17,18,19,20,21,22,23,24],"tickCount":40,"format":"d","grid":true,"labelOverlap":false,"title":"Trimestre"}},
"y":{"field":"v","type":"quantitative","scale":{"domain":[-5,358],"nice":false,"zero":false},"axis":{"values":[0,50,100,150,200,250,300,350],"tickCount":40,"format":"d","labelOverlap":false}},
"color":{"field":"k","type":"nominal","scale":{"domain":["obs","pred","trend"],"range":["#3d5f8f","#c4525c","#4e7a2c"]},"legend":{"orient":"bottom","title":null,"columns":2,"labelExpr":"datum.value=='obs'?'Obs.':datum.value=='pred'?'Pred.':'Pred désais.'","symbolType":"stroke","symbolSize":196,"labelFontSize":9,"labelColor":"#333","fillColor":"white","strokeColor":"#777","padding":5,"columnPadding":44,"rowPadding":5,"offset":10}},
"strokeDash":{"field":"k","type":"nominal","scale":{"domain":["obs","pred","trend"],"range":[[5,3],[5,3],[1,0]]},"legend":{"orient":"bottom","title":null,"columns":2,"labelExpr":"datum.value=='obs'?'Obs.':datum.value=='pred'?'Pred.':'Pred désais.'","symbolType":"stroke","symbolSize":196,"labelFontSize":9,"labelColor":"#333","fillColor":"white","strokeColor":"#777","padding":5,"columnPadding":44,"rowPadding":5,"offset":10}},
"strokeWidth":{"field":"k","type":"nominal","scale":{"domain":["obs","pred","trend"],"range":[1,1,2.5]},"legend":{"orient":"bottom","title":null,"columns":2,"labelExpr":"datum.value=='obs'?'Obs.':datum.value=='pred'?'Pred.':'Pred désais.'","symbolType":"stroke","symbolSize":196,"labelFontSize":9,"labelColor":"#333","fillColor":"white","strokeColor":"#777","padding":5,"columnPadding":44,"rowPadding":5,"offset":10}}}}]},
{"width":190,"height":412,"title":{"text":"Diema central (CFU)","fontSize":13,"color":"#333","offset":12,"fontWeight":"normal"},"layer":[
{"data":{"values":[{}]},"mark":{"type":"rule","color":"#e8344e","strokeWidth":1.3},"encoding":{"x":{"datum":5.5,"type":"quantitative"}}},
{"transform":[{"filter":"datum.r==3&&datum.s==2"},{"fold":["obs","pred","trend"],"as":["k","v"]}],"mark":{"type":"line"},"encoding":{
"x":{"field":"q","type":"quantitative","scale":{"domain":[0.1,24.9],"nice":false,"zero":false},"axis":{"values":[1,2,3,4,5,6,7,8,9,10,11,12,13,14,15,16,17,18,19,20,21,22,23,24],"tickCount":40,"format":"d","grid":true,"labelOverlap":false,"title":"Trimestre"}},
"y":{"field":"v","type":"quantitative","scale":{"domain":[-5,358],"nice":false,"zero":false},"axis":{"values":[0,50,100,150,200,250,300,350],"tickCount":40,"format":"d","labelOverlap":false}},
"color":{"field":"k","type":"nominal","scale":{"domain":["obs","pred","trend"],"range":["#3d5f8f","#c4525c","#4e7a2c"]},"legend":{"orient":"bottom","title":null,"columns":2,"labelExpr":"datum.value=='obs'?'Obs.':datum.value=='pred'?'Pred.':'Pred désais.'","symbolType":"stroke","symbolSize":196,"labelFontSize":9,"labelColor":"#333","fillColor":"white","strokeColor":"#777","padding":5,"columnPadding":44,"rowPadding":5,"offset":10}},
"strokeDash":{"field":"k","type":"nominal","scale":{"domain":["obs","pred","trend"],"range":[[5,3],[5,3],[1,0]]},"legend":{"orient":"bottom","title":null,"columns":2,"labelExpr":"datum.value=='obs'?'Obs.':datum.value=='pred'?'Pred.':'Pred désais.'","symbolType":"stroke","symbolSize":196,"labelFontSize":9,"labelColor":"#333","fillColor":"white","strokeColor":"#777","padding":5,"columnPadding":44,"rowPadding":5,"offset":10}},
"strokeWidth":{"field":"k","type":"nominal","scale":{"domain":["obs","pred","trend"],"range":[1,1,2.5]},"legend":{"orient":"bottom","title":null,"columns":2,"labelExpr":"datum.value=='obs'?'Obs.':datum.value=='pred'?'Pred.':'Pred désais.'","symbolType":"stroke","symbolSize":196,"labelFontSize":9,"labelColor":"#333","fillColor":"white","strokeColor":"#777","padding":5,"columnPadding":44,"rowPadding":5,"offset":10}}}}]},
{"width":190,"height":412,"title":{"text":"Kokry (CFU)","fontSize":13,"color":"#333","offset":12,"fontWeight":"normal"},"layer":[
{"data":{"values":[{}]},"mark":{"type":"rule","color":"#e8344e","strokeWidth":1.3},"encoding":{"x":{"datum":15.5,"type":"quantitative"}}},
{"transform":[{"filter":"datum.r==3&&datum.s==3"},{"fold":["obs","pred","trend"],"as":["k","v"]}],"mark":{"type":"line"},"encoding":{
"x":{"field":"q","type":"quantitative","scale":{"domain":[0.1,24.9],"nice":false,"zero":false},"axis":{"values":[1,2,3,4,5,6,7,8,9,10,11,12,13,14,15,16,17,18,19,20,21,22,23,24],"tickCount":40,"format":"d","grid":true,"labelOverlap":false,"title":"Trimestre"}},
"y":{"field":"v","type":"quantitative","scale":{"domain":[-5,358],"nice":false,"zero":false},"axis":{"values":[0,50,100,150,200,250,300,350],"tickCount":40,"format":"d","labelOverlap":false}},
"color":{"field":"k","type":"nominal","scale":{"domain":["obs","pred","trend"],"range":["#3d5f8f","#c4525c","#4e7a2c"]},"legend":{"orient":"bottom","title":null,"columns":2,"labelExpr":"datum.value=='obs'?'Obs.':datum.value=='pred'?'Pred.':'Pred désais.'","symbolType":"stroke","symbolSize":196,"labelFontSize":9,"labelColor":"#333","fillColor":"white","strokeColor":"#777","padding":5,"columnPadding":44,"rowPadding":5,"offset":10}},
"strokeDash":{"field":"k","type":"nominal","scale":{"domain":["obs","pred","trend"],"range":[[5,3],[5,3],[1,0]]},"legend":{"orient":"bottom","title":null,"columns":2,"labelExpr":"datum.value=='obs'?'Obs.':datum.value=='pred'?'Pred.':'Pred désais.'","symbolType":"stroke","symbolSize":196,"labelFontSize":9,"labelColor":"#333","fillColor":"white","strokeColor":"#777","padding":5,"columnPadding":44,"rowPadding":5,"offset":10}},
"strokeWidth":{"field":"k","type":"nominal","scale":{"domain":["obs","pred","trend"],"range":[1,1,2.5]},"legend":{"orient":"bottom","title":null,"columns":2,"labelExpr":"datum.value=='obs'?'Obs.':datum.value=='pred'?'Pred.':'Pred désais.'","symbolType":"stroke","symbolSize":196,"labelFontSize":9,"labelColor":"#333","fillColor":"white","strokeColor":"#777","padding":5,"columnPadding":44,"rowPadding":5,"offset":10}}}}]},
{"width":190,"height":412,"title":{"text":"Tichit (CFU)","fontSize":13,"color":"#333","offset":12,"fontWeight":"normal"},"layer":[
{"data":{"values":[{}]},"mark":{"type":"rule","color":"#e8344e","strokeWidth":1.3},"encoding":{"x":{"datum":5.5,"type":"quantitative"}}},
{"transform":[{"filter":"datum.r==3&&datum.s==4"},{"fold":["obs","pred","trend"],"as":["k","v"]}],"mark":{"type":"line"},"encoding":{
"x":{"field":"q","type":"quantitative","scale":{"domain":[0.1,24.9],"nice":false,"zero":false},"axis":{"values":[1,2,3,4,5,6,7,8,9,10,11,12,13,14,15,16,17,18,19,20,21,22,23,24],"tickCount":40,"format":"d","grid":true,"labelOverlap":false,"title":"Trimestre"}},
"y":{"field":"v","type":"quantitative","scale":{"domain":[-5,358],"nice":false,"zero":false},"axis":{"values":[0,50,100,150,200,250,300,350],"tickCount":40,"format":"d","labelOverlap":false}},
"color":{"field":"k","type":"nominal","scale":{"domain":["obs","pred","trend"],"range":["#3d5f8f","#c4525c","#4e7a2c"]},"legend":{"orient":"bottom","title":null,"columns":2,"labelExpr":"datum.value=='obs'?'Obs.':datum.value=='pred'?'Pred.':'Pred désais.'","symbolType":"stroke","symbolSize":196,"labelFontSize":9,"labelColor":"#333","fillColor":"white","strokeColor":"#777","padding":5,"columnPadding":44,"rowPadding":5,"offset":10}},
"strokeDash":{"field":"k","type":"nominal","scale":{"domain":["obs","pred","trend"],"range":[[5,3],[5,3],[1,0]]},"legend":{"orient":"bottom","title":null,"columns":2,"labelExpr":"datum.value=='obs'?'Obs.':datum.value=='pred'?'Pred.':'Pred désais.'","symbolType":"stroke","symbolSize":196,"labelFontSize":9,"labelColor":"#333","fillColor":"white","strokeColor":"#777","padding":5,"columnPadding":44,"rowPadding":5,"offset":10}},
"strokeWidth":{"field":"k","type":"nominal","scale":{"domain":["obs","pred","trend"],"range":[1,1,2.5]},"legend":{"orient":"bottom","title":null,"columns":2,"labelExpr":"datum.value=='obs'?'Obs.':datum.value=='pred'?'Pred.':'Pred désais.'","symbolType":"stroke","symbolSize":196,"labelFontSize":9,"labelColor":"#333","fillColor":"white","strokeColor":"#777","padding":5,"columnPadding":44,"rowPadding":5,"offset":10}}}}]},
{"width":190,"height":412,"title":{"text":"Wayerma II (CFU)","fontSize":13,"color":"#333","offset":12,"fontWeight":"normal"},"layer":[
{"data":{"values":[{}]},"mark":{"type":"rule","color":"#e8344e","strokeWidth":1.3},"encoding":{"x":{"datum":15.5,"type":"quantitative"}}},
{"transform":[{"filter":"datum.r==3&&datum.s==5"},{"fold":["obs","pred","trend"],"as":["k","v"]}],"mark":{"type":"line"},"encoding":{
"x":{"field":"q","type":"quantitative","scale":{"domain":[0.1,24.9],"nice":false,"zero":false},"axis":{"values":[1,2,3,4,5,6,7,8,9,10,11,12,13,14,15,16,17,18,19,20,21,22,23,24],"tickCount":40,"format":"d","grid":true,"labelOverlap":false,"title":"Trimestre"}},
"y":{"field":"v","type":"quantitative","scale":{"domain":[-5,358],"nice":false,"zero":false},"axis":{"values":[0,50,100,150,200,250,300,350],"tickCount":40,"format":"d","labelOverlap":false}},
"color":{"field":"k","type":"nominal","scale":{"domain":["obs","pred","trend"],"range":["#3d5f8f","#c4525c","#4e7a2c"]},"legend":{"orient":"bottom","title":null,"columns":2,"labelExpr":"datum.value=='obs'?'Obs.':datum.value=='pred'?'Pred.':'Pred désais.'","symbolType":"stroke","symbolSize":196,"labelFontSize":9,"labelColor":"#333","fillColor":"white","strokeColor":"#777","padding":5,"columnPadding":44,"rowPadding":5,"offset":10}},
"strokeDash":{"field":"k","type":"nominal","scale":{"domain":["obs","pred","trend"],"range":[[5,3],[5,3],[1,0]]},"legend":{"orient":"bottom","title":null,"columns":2,"labelExpr":"datum.value=='obs'?'Obs.':datum.value=='pred'?'Pred.':'Pred désais.'","symbolType":"stroke","symbolSize":196,"labelFontSize":9,"labelColor":"#333","fillColor":"white","strokeColor":"#777","padding":5,"columnPadding":44,"rowPadding":5,"offset":10}},
"strokeWidth":{"field":"k","type":"nominal","scale":{"domain":["obs","pred","trend"],"range":[1,1,2.5]},"legend":{"orient":"bottom","title":null,"columns":2,"labelExpr":"datum.value=='obs'?'Obs.':datum.value=='pred'?'Pred.':'Pred désais.'","symbolType":"stroke","symbolSize":196,"labelFontSize":9,"labelColor":"#333","fillColor":"white","strokeColor":"#777","padding":5,"columnPadding":44,"rowPadding":5,"offset":10}}}}]}
]}
],
"config":{
"font":"Liberation Sans",
"view":{"stroke":null,"fill":"white"},
"axis":{"gridColor":"#dbe3e9","gridWidth":1,"domainColor":"#777","tickColor":"#777","labelColor":"#333","labelFont":"Liberation Sans","titleFont":"Liberation Sans","titleFontWeight":"normal","titleColor":"#333"},
"axisY":{"labelFontSize":11.5,"tickSize":4,"labelPadding":3,"title":null},
"axisX":{"labelFontSize":5.5,"tickSize":3,"labelPadding":2,"titleFontSize":9.5,"titlePadding":2,"labelOverlap":false,"labelFlush":false,"labelAngle":0},
"title":{"font":"Liberation Sans","fontWeight":"normal"},
"legend":{"labelFont":"Liberation Sans"}
}
}
